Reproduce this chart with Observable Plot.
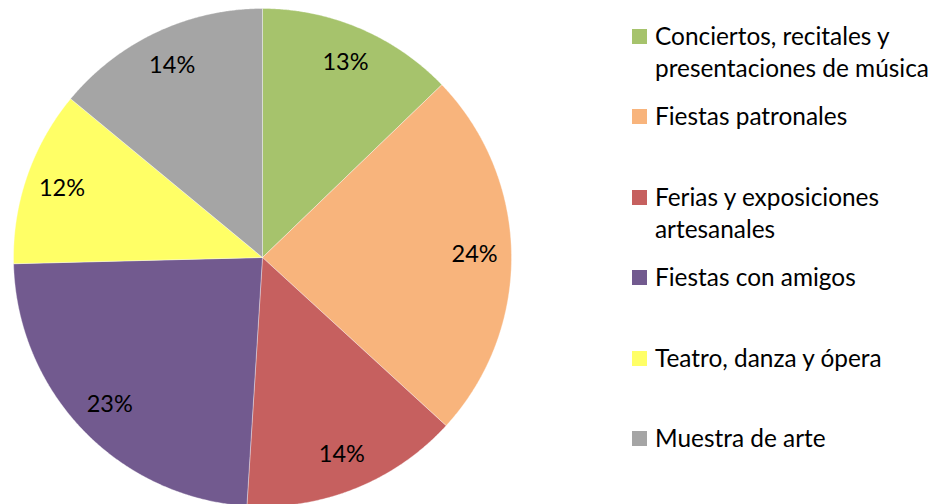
<!DOCTYPE html>
<html>
<head>
<meta charset="utf-8">
<script src="https://cdn.jsdelivr.net/npm/d3@7"></script>
<script src="https://cdn.jsdelivr.net/npm/@observablehq/plot@0.6"></script>
<style>
  html, body { margin: 0; padding: 0; background: #fff; }
  #wrap { position: relative; width: 938px; height: 504px; overflow: hidden; font-family: Lato, "Open Sans", sans-serif; }
  #chart { position: absolute; left: 0; top: 0; }
  #legend { position: absolute; left: 632px; top: 20px; }
  .item { height: 80.4px; display: flex; align-items: flex-start; }
  .sw { width: 15px; height: 15px; margin-top: 9px; margin-right: 8px; flex: none; }
  .lab { font-size: 24.4px; line-height: 32px; color: #000; white-space: nowrap; }
</style>
</head>
<body>
<div id="wrap">
  <div id="chart"></div>
  <div id="legend"></div>
</div>
<script>
const categories = [
  "Conciertos, recitales y presentaciones de música",
  "Fiestas patronales",
  "Ferias y exposiciones artesanales",
  "Fiestas con amigos",
  "Teatro, danza y ópera",
  "Muestra de arte"
];
const legendLines = [
  ["Conciertos, recitales y", "presentaciones de música"],
  ["Fiestas patronales"],
  ["Ferias y exposiciones", "artesanales"],
  ["Fiestas con amigos"],
  ["Teatro, danza y ópera"],
  ["Muestra de arte"]
];
const values = [12.8, 24.0, 14.2, 23.6, 11.4, 14.0];
const labels = ["13%", "24%", "14%", "23%", "12%", "14%"];
const colors = ["#A6C36C", "#F8B47C", "#C6605F", "#725A8F", "#FFFF66", "#A5A5A5"];

const arcs = d3.pie().sort(null).value(d => d)(values);
const slicePts = [];
arcs.forEach((a, i) => {
  const cat = categories[i];
  slicePts.push({cat, x: 0, y: 0});
  const n = Math.max(4, Math.ceil((a.endAngle - a.startAngle) / 0.005));
  for (let k = 0; k <= n; k++) {
    const t = a.startAngle + (a.endAngle - a.startAngle) * k / n;
    slicePts.push({cat, x: Math.sin(t), y: Math.cos(t)});
  }
  slicePts.push({cat, x: 0, y: 0});
});
const labelPts = arcs.map((a, i) => {
  const m = (a.startAngle + a.endAngle) / 2;
  return {label: labels[i], x: 0.852 * Math.sin(m), y: 0.852 * Math.cos(m)};
});

const cx = 262, cy = 257, R = 249;
const plot = Plot.plot({
  width: 620,
  height: 504,
  margin: 0,
  x: {domain: [-1, 1], range: [cx - R, cx + R], axis: null},
  y: {domain: [-1, 1], range: [cy + R, cy - R], axis: null},
  color: {domain: categories, range: colors},
  style: {fontFamily: "Lato, 'Open Sans', sans-serif", background: "transparent"},
  marks: [
    Plot.line(slicePts, {x: "x", y: "y", z: "cat", fill: "cat", stroke: "#ffffff", strokeWidth: 0.6, strokeOpacity: 0.6, curve: "linear"}),
    Plot.text(labelPts, {x: "x", y: "y", text: "label", fontSize: 23.5, fill: "#000", textAnchor: "middle", lineAnchor: "middle"})
  ]
});
document.getElementById("chart").appendChild(plot);

const legend = document.getElementById("legend");
categories.forEach((c, i) => {
  const item = document.createElement("div");
  item.className = "item";
  const sw = document.createElement("div");
  sw.className = "sw";
  sw.style.background = colors[i];
  const lab = document.createElement("div");
  lab.className = "lab";
  lab.innerHTML = legendLines[i].join("<br>");
  item.appendChild(sw);
  item.appendChild(lab);
  legend.appendChild(item);
});
</script>
</body>
</html>
